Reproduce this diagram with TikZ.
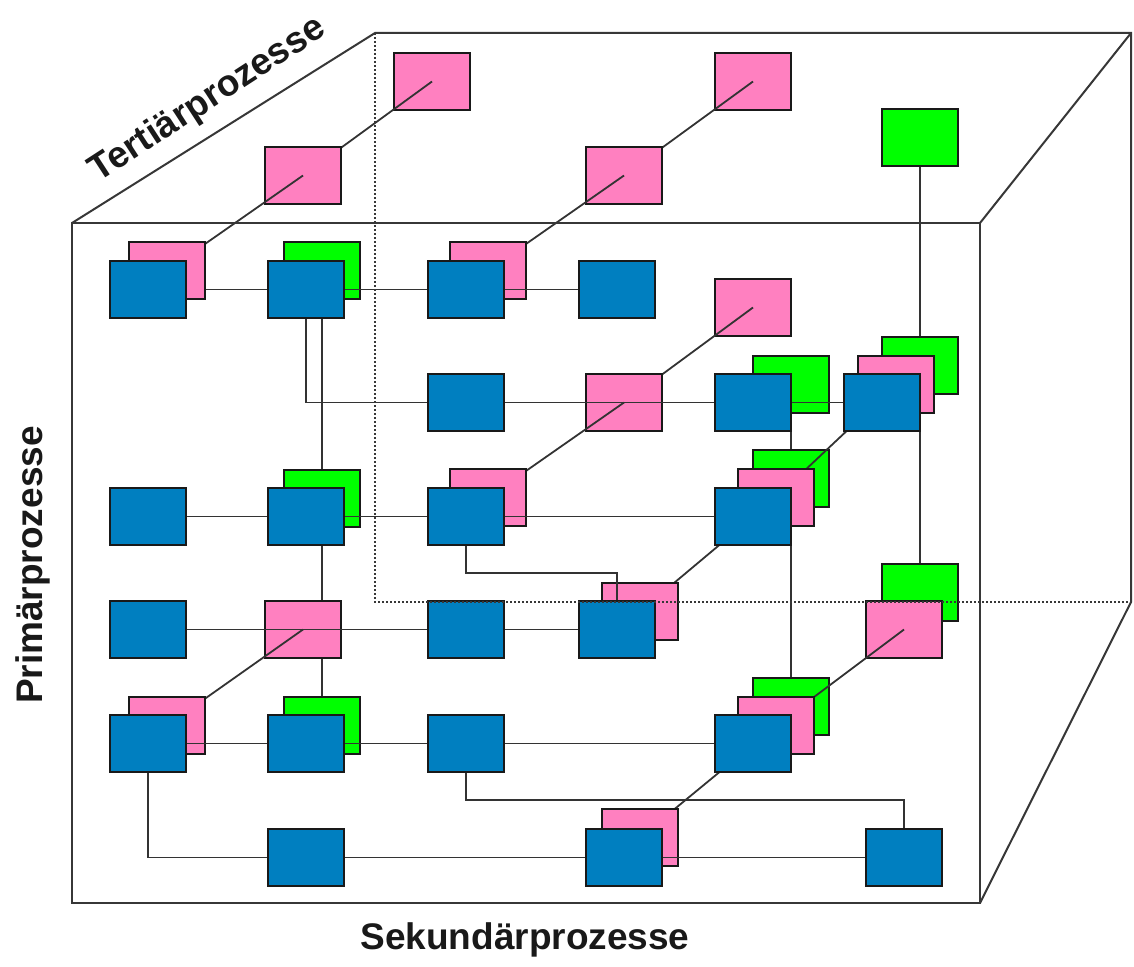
\documentclass[tikz,border=0pt]{standalone}
\usepackage{fontspec}
\setmainfont{Liberation Sans}
\definecolor{bblue}{RGB}{0,127,192}
\definecolor{bpink}{RGB}{255,128,192}
\definecolor{bgreen}{RGB}{0,255,0}
\definecolor{edge}{RGB}{55,55,55}
\begin{document}
\begin{tikzpicture}[x=1pt,y=-1pt,
  box/.style={draw=black!90, line width=1.9pt, minimum width=76pt, minimum height=57pt, inner sep=0pt, outer sep=0pt, anchor=north west},
  bluebox/.style={box, fill=bblue},
  pinkbox/.style={box, fill=bpink},
  greenbox/.style={box, fill=bgreen},
  conn/.style={draw=black!80, line width=1.8pt},
  cubeedge/.style={draw=edge, line width=2pt},
  hidden/.style={draw=edge, line width=1.5pt, dash pattern=on 2pt off 2pt},
  lbl/.style={font=\fontsize{37}{42}\selectfont\bfseries, text=black!90, inner sep=0pt}]
\useasboundingbox (0,0) rectangle (1134,966);

% coordinates for cube corners
\coordinate (ftl) at (72,223);
\coordinate (ftr) at (980,223);
\coordinate (fbr) at (980,903);
\coordinate (fbl) at (72,903);
\coordinate (btl) at (375,33);
\coordinate (btr) at (1131,33);
\coordinate (bbr) at (1131,602);
\coordinate (bbl) at (375,602);
\coordinate (k1) at (0,573);
\coordinate (k2) at (0,800);

% positions of green column boxes (defined early, drawn later)
\path (284,242) node[box, draw=none] (g12) {};
\path (284,470) node[box, draw=none] (g32) {};
\path (284,697) node[box, draw=none] (g52) {};
\path (753,356) node[box, draw=none] (g25) {};
\path (753,450) node[box, draw=none] (g35) {};
\path (753,678) node[box, draw=none] (g55) {};
\path (882,109) node[box, draw=none] (gtop) {};
\path (882,337) node[box, draw=none] (g26) {};
\path (882,564) node[box, draw=none] (g46) {};

% green vertical lines (behind green boxes)
\draw[conn] (g12.center) -- (g52.center);
\draw[conn] (g25.center) -- (g55.center);
\draw[conn] (gtop.center) -- (g46.center);

% far tertiary boxes
\node[pinkbox] (pa) at (394,53) {};
\node[pinkbox] (pc) at (715,53) {};
\node[pinkbox] (pe) at (715,279) {};
\node[greenbox] at (gtop.north west) {};
\path (265,147) node[box, draw=none] (pb) {};
\path (586,147) node[box, draw=none] (pd) {};
\path (586,374) node[box, draw=none] (pp) {};
\draw[conn] (pa.center) -- (pb.center);
\draw[conn] (pc.center) -- (pd.center);
\draw[conn] (pe.center) -- (pp.center);
\node[pinkbox] at (pb.north west) {};
\node[pinkbox] at (pd.north west) {};
\path (129,242) node[box, draw=none] (p11) {};
\path (450,242) node[box, draw=none] (p13) {};
\draw[conn] (pb.center) -- (p11.center);
\draw[conn] (pd.center) -- (p13.center);

% green boxes behind blue ones
\foreach \g in {g12,g32,g52,g25,g35,g55,g26,g46}
  \node[greenbox] at (\g.north west) {};

% pink chains on the right
\path (858,356) node[box, draw=none] (p26) {};
\path (738,469) node[box, draw=none] (p35) {};
\path (602,583) node[box, draw=none] (p44) {};
\path (738,697) node[box, draw=none] (p55) {};
\path (602,809) node[box, draw=none] (p64) {};
\path (450,469) node[box, draw=none] (p33) {};
\path (129,697) node[box, draw=none] (p51) {};

\node[pinkbox] at (p26.north west) {};
\draw[conn] (p26.center) -- (p35.center);
\node[pinkbox] at (p35.north west) {};
\draw[conn] (p35.center) -- (p44.center);
\node[pinkbox] (p46) at (866,601) {};
\draw[conn] (p46.center) -- (p55.center);
\node[pinkbox] at (p55.north west) {};
\draw[conn] (p55.center) -- (p64.center);

% front pink boxes
\node[pinkbox] at (pp.north west) {};
\draw[conn] (pp.center) -- (p33.center);
\node[pinkbox] (p42) at (265,601) {};
\draw[conn] (p42.center) -- (p51.center);

% pink boxes behind blue ones
\node[pinkbox] at (p13.north west) {};
\node[pinkbox] at (p33.north west) {};
\node[pinkbox] at (p44.north west) {};
\node[pinkbox] at (p51.north west) {};
\node[pinkbox] at (p64.north west) {};

% blue box positions
\path (110,261) node[box, draw=none] (b11) {};
\path (268,261) node[box, draw=none] (b12) {};
\path (428,261) node[box, draw=none] (b13) {};
\path (579,261) node[box, draw=none] (b14) {};
\path (428,374) node[box, draw=none] (b23) {};
\path (715,374) node[box, draw=none] (b25) {};
\path (844,374) node[box, draw=none] (b26) {};
\path (110,488) node[box, draw=none] (b31) {};
\path (268,488) node[box, draw=none] (b32) {};
\path (428,488) node[box, draw=none] (b33) {};
\path (715,488) node[box, draw=none] (b35) {};
\path (110,601) node[box, draw=none] (b41) {};
\path (428,601) node[box, draw=none] (b43) {};
\path (579,601) node[box, draw=none] (b44) {};
\path (110,715) node[box, draw=none] (b51) {};
\path (268,715) node[box, draw=none] (b52) {};
\path (428,715) node[box, draw=none] (b53) {};
\path (715,715) node[box, draw=none] (b55) {};
\path (268,829) node[box, draw=none] (b62) {};
\path (586,829) node[box, draw=none] (b64) {};
\path (866,829) node[box, draw=none] (b66) {};

% row connectors
\draw[conn] (b11.center) -- (b14.center);
\node[pinkbox] at (p11.north west) {};
\draw[conn] (b12.center) |- (b23.center) -- (b26.center);
\draw[conn] (b31.center) -- (b35.center);
\draw[conn] (b41.center) -- (b44.center);
\draw[conn] (b51.center) -- (b55.center);
\draw[conn] (b51.center) |- (b62.center) -- (b66.center);
\draw[conn] (b33.center) -- (b33.center |- k1) -| (b44.center);
\draw[conn] (b53.center) -- (b53.center |- k2) -| (b66.center);

% blue boxes
\foreach \b in {b11,b12,b13,b14,b23,b25,b26,b31,b32,b33,b35,b41,b43,b44,b51,b52,b53,b55,b62,b64,b66}
  \node[bluebox] at (\b.north west) {};

% cube
\draw[cubeedge] (ftl) rectangle (fbr);
\draw[cubeedge] (ftl) -- (btl) -- (btr) -- (bbr) -- (fbr);
\draw[cubeedge] (ftr) -- (btr);
\draw[hidden] (btl) -- (bbl) -- (bbr);

% labels
\node[lbl, rotate=33] (tert) at (208,100) {Tertiärprozesse};
\node[lbl, rotate=90] (prim) at (33,565) {Primärprozesse};
\node[lbl] (sek) at (525,940) {Sekundärprozesse};
\end{tikzpicture}
\end{document}
